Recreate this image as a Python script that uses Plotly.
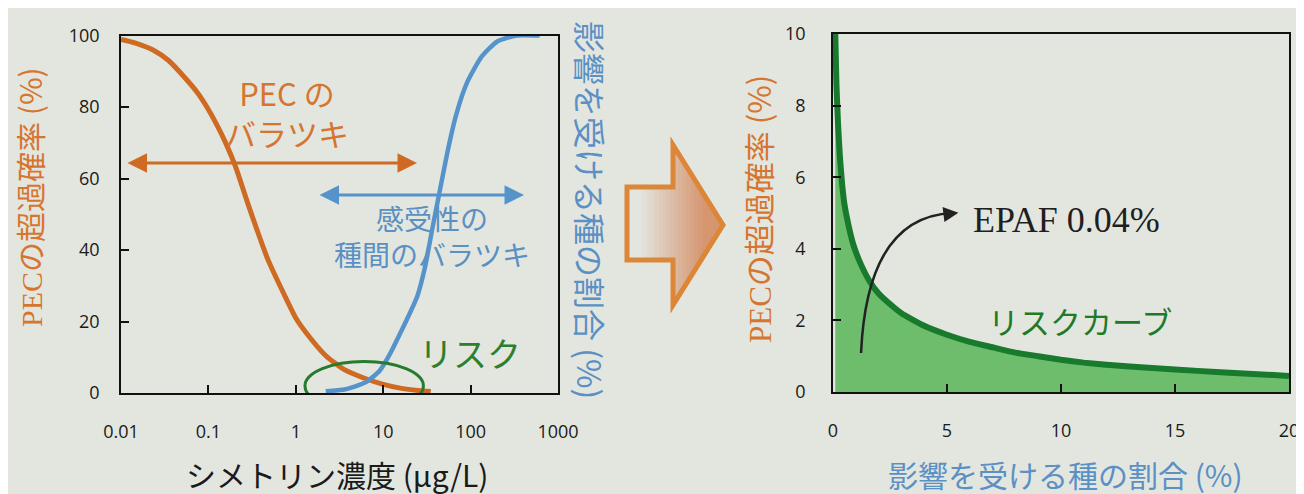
import plotly.graph_objects as go

# the page body has an 8px margin, so the figure is drawn 8px in from the corner
OFF = 8
W, H = 1296, 486
BG = "#e3e6df"
ORANGE = "#cf6a22"
ORANGE_TXT = "#d6752f"
BLUE = "#5793cb"
BLUE_TXT = "#5b90c4"
GREEN = "#187a2c"
GREEN_FILL = "#6dbd6d"
JP = "Noto Sans CJK JP"
SERIF = "Liberation Serif"

# left panel: PEC exceedance probability (orange)
pec_conc = [0.01, 0.015, 0.023, 0.035, 0.052, 0.075, 0.095, 0.125, 0.158, 0.204,
            0.29, 0.48, 0.79, 1.0, 1.32, 2.19, 3.55, 6.0, 9.8, 16.2, 25, 35]
pec_pct = [98.9, 97.8, 96, 93, 88.6, 84, 80.2, 75, 69.9, 63.4,
           52.2, 37.3, 26, 21, 16.8, 10.5, 6.6, 4.2, 2.5, 1.3, 0.7, 0.4]

# left panel: fraction of affected species (blue)
ssd_conc = [2.2, 3.6, 4.7, 6.5, 9.1, 12.0, 15.5, 18.6, 24.5, 30.2, 36.3,
            44.7, 55, 67.6, 91, 135, 204, 339, 617]
ssd_pct = [0.5, 1.0, 1.8, 3.2, 6.2, 11, 16.5, 20.5, 27, 35.4, 45.7,
           56.9, 68, 77.4, 86.8, 94.2, 98.4, 100, 100]

# right panel: risk curve
risk_x = [0.1, 0.15, 0.22, 0.3, 0.4, 0.5, 0.7, 0.9, 1.2, 1.6, 2.0, 2.6, 3.0,
          4, 5, 6, 7, 8, 9, 10, 11, 12, 14, 16, 18, 20]
risk_y = [10, 8.6, 7.5, 6.6, 5.8, 5.25, 4.6, 4.1, 3.6, 3.1, 2.75, 2.4, 2.2,
          1.85, 1.6, 1.4, 1.25, 1.1, 1.0, 0.9, 0.82, 0.76, 0.67, 0.59, 0.52, 0.45]

conc_ticks = [0.01, 0.1, 1, 10, 100, 1000]
conc_ticktext = ["0.01", "0.1", "1", "10", "100", "1000"]


def px(x):
    return (x - OFF) / W


def py(y):
    return 1 - (y - OFF) / H


fig = go.Figure()
fig.add_trace(go.Scatter(x=pec_conc, y=pec_pct, mode="lines",
                         line=dict(color=ORANGE, width=5, shape="spline", smoothing=0.6),
                         xaxis="x", yaxis="y", showlegend=False))
fig.add_trace(go.Scatter(x=ssd_conc, y=ssd_pct, mode="lines",
                         line=dict(color=BLUE, width=4.5, shape="spline", smoothing=0.6),
                         xaxis="x", yaxis="y", showlegend=False))
fig.add_trace(go.Scatter(x=risk_x, y=risk_y, mode="lines", fill="tozeroy",
                         fillcolor=GREEN_FILL,
                         line=dict(color=GREEN, width=6, shape="spline", smoothing=0.5),
                         xaxis="x2", yaxis="y2", showlegend=False))

axis_style = dict(showline=True, mirror=True, linecolor="#111", linewidth=1.5,
                  ticks="inside", ticklen=8, tickcolor="#111", tickwidth=1.5,
                  showgrid=False, zeroline=False, automargin=False,
                  ticklabeloverflow="allow",
                  tickfont=dict(family="Open Sans", size=18, color="#1a1a1a"))

fig.update_layout(
    template="none",
    width=W, height=H,
    margin=dict(l=0, r=0, t=0, b=0, pad=0),
    paper_bgcolor=BG, plot_bgcolor=BG,
    xaxis=dict(domain=[px(121), px(558)], type="log", range=[-2, 3],
               tickvals=conc_ticks, ticktext=conc_ticktext, anchor="y",
               ticklabelstandoff=22, **axis_style),
    yaxis=dict(domain=[py(393), py(35.5)], range=[0, 100], dtick=20, anchor="x",
               ticklabelstandoff=16, **axis_style),
    xaxis2=dict(domain=[px(833), px(1289)], range=[0, 20], dtick=5, anchor="y2",
                ticklabelstandoff=22, **axis_style),
    yaxis2=dict(domain=[py(392), py(34)], range=[0, 10], dtick=2, anchor="x2",
                ticklabelstandoff=22, **axis_style),
)

shapes = []
# "risk" ellipse
shapes.append(dict(type="circle", xref="x domain", yref="y",
                   x0=0.421, x1=0.692, y0=-4.9, y1=8.8,
                   line=dict(color="#277a2e", width=3)))

# big block arrow between the panels, with a left-to-right gradient
x_s, x_b, x_t = 627, 673, 723
y_st, y_sb = 187, 260
y_ht, y_hb, y_tip = 145, 305, 225


def arrow_top(x):
    if x <= x_b:
        return y_st
    return y_ht + (x - x_b) * (y_tip - y_ht) / (x_t - x_b)


def arrow_bot(x):
    if x <= x_b:
        return y_sb
    return y_hb - (x - x_b) * (y_hb - y_tip) / (x_t - x_b)


c0 = (227, 230, 224)
c1 = (214, 150, 112)
n = 24
edges = [x_s + (x_t - x_s) * i / n for i in range(n + 1)]
for i in range(n):
    a, b = edges[i], edges[i + 1]
    mids = [a, x_b, b] if a < x_b < b else [a, b]
    t = max(0.0, min(1.0, ((a + b) / 2 - 640) / 65))
    col = tuple(int(c0[k] + (c1[k] - c0[k]) * t) for k in range(3))
    top = " L".join(f"{px(m)},{py(arrow_top(m))}" for m in mids)
    bot = " L".join(f"{px(m)},{py(arrow_bot(m))}" for m in reversed(mids))
    path = f"M{top} L{bot} Z"
    shapes.append(dict(type="path", xref="paper", yref="paper", path=path,
                       fillcolor=f"rgb{col}", line=dict(width=0.6, color=f"rgb{col}")))
outline = (f"M{px(x_s)},{py(y_st)} L{px(x_b)},{py(y_st)} L{px(x_b)},{py(y_ht)} "
           f"L{px(x_t)},{py(y_tip)} L{px(x_b)},{py(y_hb)} L{px(x_b)},{py(y_sb)} "
           f"L{px(x_s)},{py(y_sb)} Z")
shapes.append(dict(type="path", xref="paper", yref="paper", path=outline,
                   line=dict(color="#dc8638", width=5)))

# curved EPAF arrow
shapes.append(dict(type="path", xref="x2", yref="y2",
                   path="M1.23,1.09 Q1.5,4.9 5.25,5.0",
                   line=dict(color="#222", width=2.5)))
fig.update_layout(shapes=shapes)

ann = []
# double arrows
ann.append(dict(xref="paper", yref="paper", x=px(417), y=py(163), ax=-291, ay=0,
                text="", showarrow=True, arrowside="end+start", arrowhead=2,
                arrowsize=1.3, arrowwidth=3, arrowcolor=ORANGE))
ann.append(dict(xref="paper", yref="paper", x=px(524), y=py(195), ax=-206, ay=0,
                text="", showarrow=True, arrowside="end+start", arrowhead=2,
                arrowsize=1.3, arrowwidth=3, arrowcolor=BLUE))
# EPAF arrowhead
ann.append(dict(xref="x2", yref="y2", x=5.5, y=5.01, ax=-16, ay=2,
                text="", showarrow=True, arrowhead=2, arrowsize=1.2,
                arrowwidth=2.5, arrowcolor="#222"))


def label(text, x, y, size, color, family=JP, angle=0):
    ann.append(dict(xref="paper", yref="paper", x=px(x), y=py(y), text=text,
                    showarrow=False, textangle=angle, xanchor="center", yanchor="middle",
                    font=dict(family=family, size=size, color=color)))


label("PEC の<br>バラツキ", 287, 112, 31, ORANGE_TXT)
label("感受性の<br>種間のバラツキ", 432, 236, 28, BLUE_TXT)
label("リスク", 470, 352, 34, "#2d7f2d")
label("EPAF 0.04%", 1066, 220, 36, "#1f1f1f", family=SERIF)
label("リスクカーブ", 1080, 320, 31, "#1f7a28")

# axis titles
label(f'<span style="font-family:{SERIF}">PEC</span>の超過確率 (%)', 29, 197, 30,
      ORANGE_TXT, angle=-90)
label("影響を受ける種の割合 (%)", 591, 210, 32, BLUE_TXT, angle=90)
label("シメトリン濃度 (μg/L)", 337, 474, 30, "#1a1a1a")
label(f'<span style="font-family:{SERIF}">PEC</span>の超過確率 (%)', 757, 209, 31,
      ORANGE_TXT, angle=-90)
label("影響を受ける種の割合 (%)", 1065, 474, 30, BLUE_TXT)

fig.update_layout(annotations=ann)
fig.write_html("out.html")
